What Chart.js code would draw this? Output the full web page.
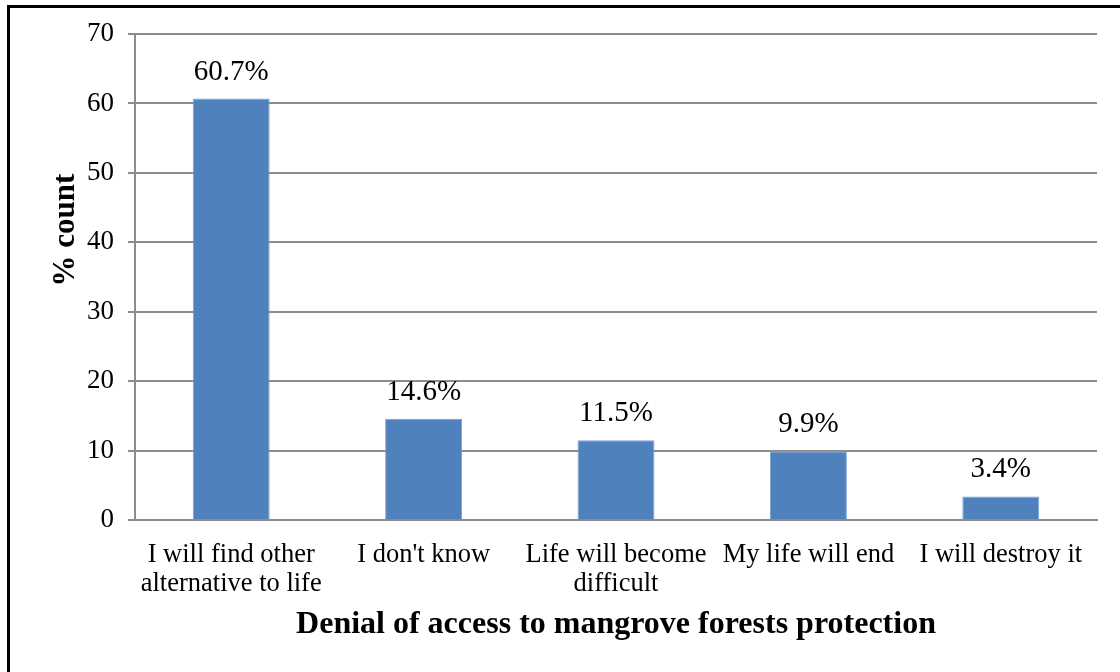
<!DOCTYPE html>
<html>
<head>
<meta charset="utf-8">
<script src="https://cdn.jsdelivr.net/npm/chart.js@4.4.0/dist/chart.umd.min.js"></script>
<style>
  body { margin: 0; background: #fff; }
  #wrap { position: relative; width: 1120px; height: 672px; overflow: hidden; }
  #chart { position: absolute; left: 0; top: 0; }
  .frame { position: absolute; left: 7px; top: 5px; width: 1200px; height: 700px;
           border: 3px solid #000; border-bottom: none; pointer-events: none; }
</style>
</head>
<body>
<div id="wrap">
  <canvas id="chart" width="1120" height="672"></canvas>
  <div class="frame"></div>
</div>
<script>
// categories (multi-line labels like in the original)
const categories = [
  ['I will find other', 'alternative to life'],
  ["I don't know"],
  ['Life will become', 'difficult'],
  ['My life will end'],
  ['I will destroy it']
];
// % count values
const values = [60.7, 14.6, 11.5, 9.9, 3.4];
const yTicks = [0, 10, 20, 30, 40, 50, 60, 70];

const xTitle = 'Denial of access to mangrove forests protection';
const yTitle = '% count';

const serif = "'Liberation Serif', 'Times New Roman', serif";

// draws the % labels over the bars and both axis titles
const extraText = {
  id: 'extraText',
  afterDatasetsDraw(chart) {
    const ctx = chart.ctx;
    const meta = chart.getDatasetMeta(0);
    ctx.save();
    ctx.fillStyle = '#000';
    ctx.font = '29px ' + serif;
    ctx.textAlign = 'center';
    ctx.textBaseline = 'alphabetic';
    meta.data.forEach((bar, i) => {
      ctx.fillText(values[i].toFixed(1) + '%', bar.x, bar.y - 19);
    });

    const area = chart.chartArea;
    ctx.font = 'bold 32px ' + serif;
    ctx.textBaseline = 'middle';
    ctx.fillText(xTitle, (area.left + area.right) / 2, 625);

    ctx.translate(66, 230);
    ctx.rotate(-Math.PI / 2);
    ctx.font = 'bold 31px ' + serif;
    ctx.fillText(yTitle, 0, 0);
    ctx.restore();
  }
};

const canvas = document.getElementById('chart');

new Chart(canvas, {
  type: 'bar',
  data: {
    labels: categories,
    datasets: [{
      data: values,
      backgroundColor: '#4f81bd',
      borderColor: '#7aa0d0',
      borderWidth: 1,
      categoryPercentage: 1,
      barPercentage: 0.4
    }]
  },
  options: {
    responsive: false,
    animation: false,
    layout: { padding: { top: 34, right: 23, left: 0, bottom: 0 } },
    plugins: {
      legend: { display: false },
      tooltip: { enabled: false }
    },
    scales: {
      x: {
        grid: { display: false, drawTicks: false },
        border: { color: '#8c8c8c', width: 2 },
        ticks: {
          color: '#000',
          font: { family: serif, size: 26.5, lineHeight: 1.12 },
          padding: 20,
          maxRotation: 0,
          autoSkip: false
        },
        afterFit(scale) { scale.height = 152; }
      },
      y: {
        min: 0,
        max: 70,
        afterBuildTicks(scale) { scale.ticks = yTicks.map(v => ({ value: v })); },
        grid: { color: '#8c8c8c', lineWidth: 2, tickLength: 7 },
        border: { color: '#8c8c8c', width: 2 },
        ticks: {
          color: '#000',
          font: { family: serif, size: 27 },
          padding: 14
        },
        afterFit(scale) { scale.width = 135; }
      }
    }
  },
  plugins: [extraText]
});
</script>
</body>
</html>
